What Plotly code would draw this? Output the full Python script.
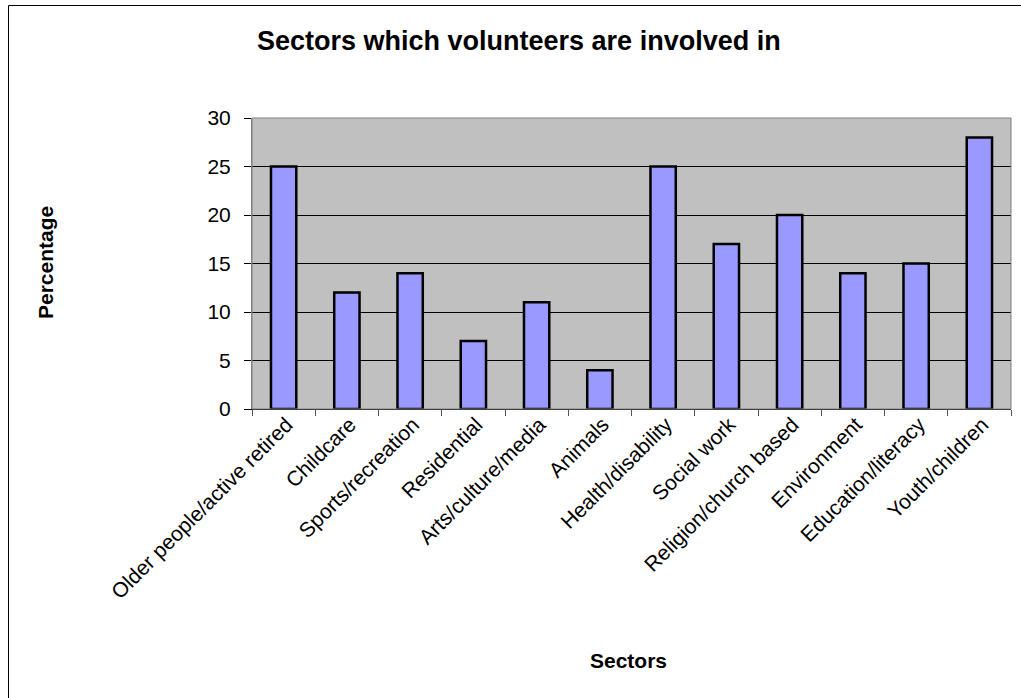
import plotly.graph_objects as go

# Survey results: share of volunteers by sector
sectors = [
    "Older people/active retired", "Childcare", "Sports/recreation", "Residential",
    "Arts/culture/media", "Animals", "Health/disability", "Social work",
    "Religion/church based", "Environment", "Education/literacy", "Youth/children",
]
percentages = [25, 12, 14, 7, 11, 4, 25, 17, 20, 14, 15, 28]
y_ticks = [0, 5, 10, 15, 20, 25, 30]

W, H = 1021, 698
ML, MR, MT, MB = 252, 10, 118, 289
PW, PH = W - ML - MR, H - MT - MB


def px_x(x):
    return (x - ML) / PW


def px_y(y):
    return (H - MB - y) / PH


FONT = "Liberation Sans, Arial, sans-serif"

fig = go.Figure(
    go.Bar(
        x=sectors,
        y=percentages,
        marker=dict(color="#9999FF", line=dict(color="#000000", width=2.5)),
        hoverinfo="x+y",
    )
)

fig.update_layout(
    width=W,
    height=H,
    margin=dict(l=ML, r=MR, t=MT, b=MB, pad=0),
    paper_bgcolor="#FFFFFF",
    plot_bgcolor="#C0C0C0",
    bargap=0.6,
    showlegend=False,
    font=dict(family=FONT, color="#000000", size=21),
    xaxis=dict(
        type="category",
        tickangle=-45,
        ticks="outside",
        ticklen=6,
        tickcolor="#555555",
        tickson="boundaries",
        ticklabelstandoff=-6,
        ticklabelshift=3,
        showline=True,
        linecolor="#000000",
        linewidth=1,
        showgrid=False,
        tickfont=dict(size=21, family=FONT),
    ),
    yaxis=dict(
        range=[0, 30],
        tickvals=y_ticks,
        ticks="outside",
        ticklen=7,
        tickcolor="#000000",
        ticklabelstandoff=9,
        showline=True,
        linecolor="#808080",
        linewidth=1,
        showgrid=True,
        gridcolor="#000000",
        gridwidth=1,
        zeroline=False,
        tickfont=dict(size=21, family=FONT),
    ),
    shapes=[
        # grey border around the plotting area
        dict(type="rect", xref="paper", yref="paper", x0=0, x1=1, y0=0, y1=1,
             line=dict(color="#808080", width=1), fillcolor="rgba(0,0,0,0)"),
        # outer chart frame
        dict(type="rect", xref="paper", yref="paper",
             x0=px_x(8.5), x1=px_x(1040), y0=px_y(720), y1=px_y(5.5),
             line=dict(color="#000000", width=1), fillcolor="rgba(0,0,0,0)"),
    ],
    annotations=[
        dict(text="<b>Sectors which volunteers are involved in</b>",
             xref="paper", yref="paper", x=px_x(519), y=px_y(41),
             xanchor="center", yanchor="middle", showarrow=False,
             font=dict(size=27, family=FONT)),
        dict(text="<b>Sectors</b>",
             xref="paper", yref="paper", x=px_x(628), y=px_y(660),
             xanchor="center", yanchor="middle", showarrow=False,
             font=dict(size=21, family=FONT)),
        dict(text="<b>Percentage</b>",
             xref="paper", yref="paper", x=px_x(45), y=px_y(263),
             xanchor="center", yanchor="middle", showarrow=False, textangle=-90,
             font=dict(size=21, family=FONT)),
    ],
)

fig.write_html("out.html")
